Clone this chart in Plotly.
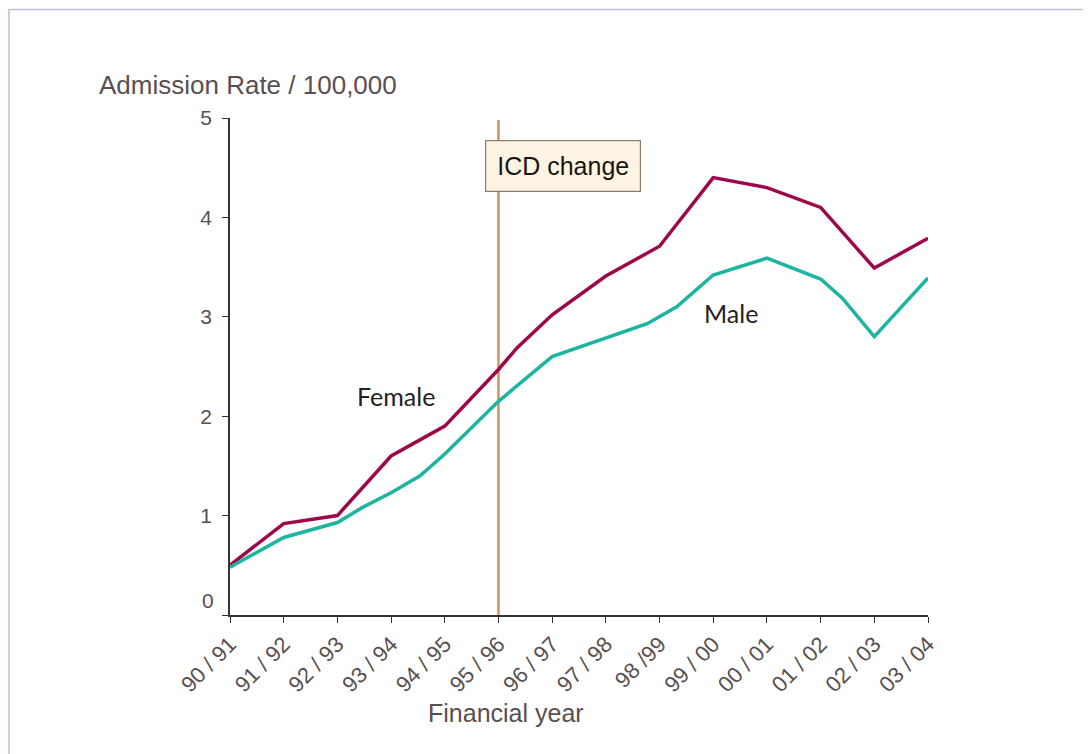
import plotly.graph_objects as go

tick_labels = ["90 / 91", "91 / 92", "92 / 93", "93 / 94", "94 / 95", "95 / 96", "96 / 97",
               "97 / 98", "98 /99", "99 / 00", "00 / 01", "01 / 02", "02 / 03", "03 / 04"]
y_ticks = [0, 1, 2, 3, 4, 5]

female_x = [0, 1, 2, 3, 4, 5, 5.35, 6, 7, 8, 9, 10, 11, 12, 13]
female_y = [0.50, 0.92, 1.00, 1.60, 1.90, 2.47, 2.69, 3.02, 3.41, 3.71, 4.40, 4.30, 4.10, 3.49, 3.79]

male_x = [0, 1, 2, 2.46, 3, 3.54, 4, 5, 6, 7.77, 8.32, 9, 10, 11, 11.4, 12, 13]
male_y = [0.48, 0.78, 0.93, 1.08, 1.23, 1.40, 1.62, 2.15, 2.60, 2.93, 3.10, 3.42, 3.59, 3.38, 3.19, 2.80, 3.39]

icd_change_x = 5

FEMALE = "#9e084b"
MALE = "#1cb5a0"
AX = "#5a4f50"
FONT = "Liberation Sans, Arial"

fig = go.Figure()
fig.add_trace(go.Scatter(x=female_x, y=female_y, mode="lines", name="Female",
                         line=dict(color=FEMALE, width=3.5), showlegend=False))
fig.add_trace(go.Scatter(x=male_x, y=male_y, mode="lines", name="Male",
                         line=dict(color=MALE, width=3.5), showlegend=False))

fig.add_shape(type="line", x0=icd_change_x, x1=icd_change_x, y0=0, y1=4.98,
              xref="x", yref="y", line=dict(color="#d4935a", width=2.5), layer="below")

# outer frame
fig.add_shape(type="rect", xref="paper", yref="paper", x0=-0.3166, x1=1.3, y0=-0.35, y1=1.2183,
              line=dict(color="#c8b8cc", width=1.5))

fig.add_annotation(x=4.75, y=4.52, xref="x", yref="y", text="ICD change", showarrow=False,
                   xanchor="left", yanchor="middle",
                   font=dict(family=FONT, size=25, color="#1a1410"),
                   bgcolor="#fdf4e4", bordercolor="#8c7a6c", borderwidth=1.2, borderpad=11)

fig.add_annotation(x=3.09, y=2.20, xref="x", yref="y", text="Female", showarrow=False,
                   font=dict(family="Lato", size=25, color="#222"))
fig.add_annotation(x=9.33, y=3.04, xref="x", yref="y", text="Male", showarrow=False,
                   font=dict(family="Lato", size=25, color="#222"))

fig.add_annotation(x=-0.1905, y=1.066, xref="paper", yref="paper", text="Admission Rate / 100,000",
                   showarrow=False, xanchor="left", yanchor="middle",
                   font=dict(family=FONT, size=26, color=AX))
fig.add_annotation(x=0.395, y=-0.197, xref="paper", yref="paper", text="Financial year",
                   showarrow=False, xanchor="center", yanchor="middle",
                   font=dict(family=FONT, size=25, color=AX))

# the "0" label sits a little above its tick in the reference
fig.add_annotation(x=-0.02, xref="paper", y=y_ticks[0] + 0.15, yref="y", text=str(y_ticks[0]),
                   showarrow=False, xanchor="right", yanchor="middle",
                   font=dict(family=FONT, size=21, color=AX))

fig.update_layout(
    width=1091, height=754,
    margin=dict(l=222, r=171, t=110, b=147),
    paper_bgcolor="white", plot_bgcolor="white",
    xaxis=dict(range=[0, 13], tickmode="array", tickvals=list(range(len(tick_labels))),
               ticktext=tick_labels, tickangle=-45, showgrid=False, zeroline=False,
               showline=True, linecolor="#333", linewidth=1.5, ticks="outside", ticklen=6,
               tickcolor="#333", tickfont=dict(family=FONT, size=22, color=AX)),
    yaxis=dict(range=[0, 5], tickmode="array", tickvals=y_ticks,
               ticktext=[""] + [str(v) for v in y_ticks[1:]],
               showgrid=False, zeroline=False,
               showline=True, linecolor="#333", linewidth=1.5, ticks="outside", ticklen=6,
               tickcolor="#333", ticklabelstandoff=6,
               tickfont=dict(family=FONT, size=21, color=AX)),
)

fig.write_html("out.html")
